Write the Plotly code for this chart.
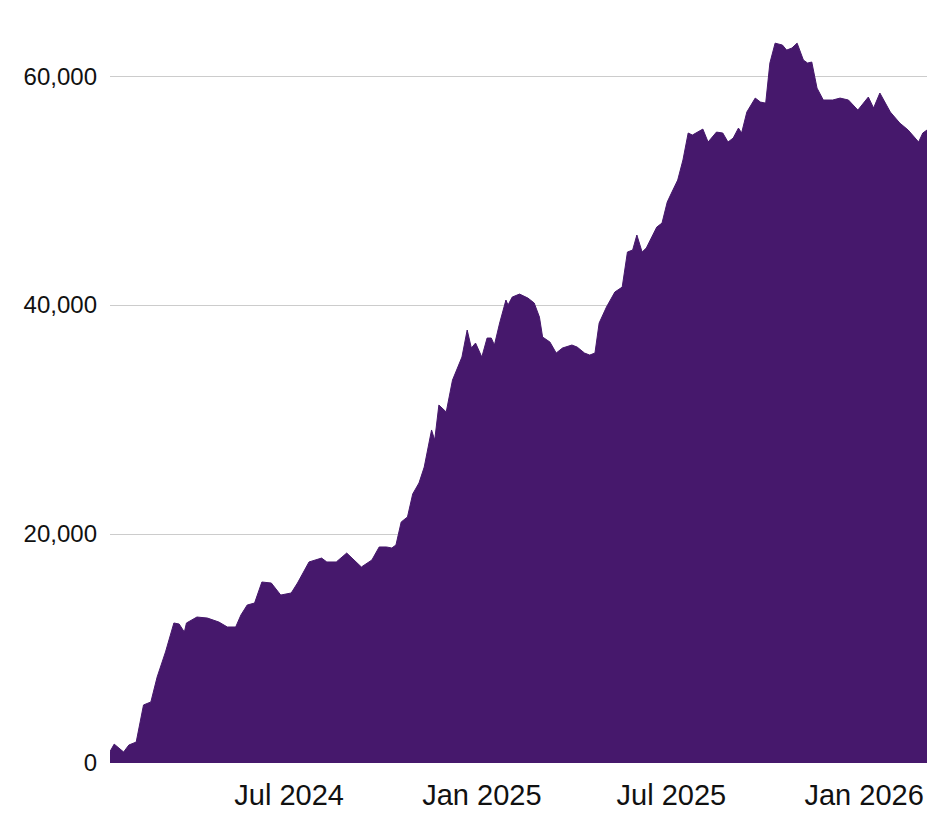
import plotly.graph_objects as go

dates = [
    "2024-01-12", "2024-01-16", "2024-01-25", "2024-01-30", "2024-02-06", "2024-02-13",
    "2024-02-20", "2024-02-26", "2024-03-05", "2024-03-13", "2024-03-18", "2024-03-23",
    "2024-03-25", "2024-04-04", "2024-04-14", "2024-04-25", "2024-05-03", "2024-05-11",
    "2024-05-16", "2024-05-22", "2024-05-29", "2024-06-05", "2024-06-14", "2024-06-23",
    "2024-07-03", "2024-07-09", "2024-07-20", "2024-08-01", "2024-08-06", "2024-08-15",
    "2024-08-25", "2024-09-01", "2024-09-08", "2024-09-18", "2024-09-25", "2024-10-02",
    "2024-10-07", "2024-10-11", "2024-10-16", "2024-10-22", "2024-10-27", "2024-11-02",
    "2024-11-07", "2024-11-14", "2024-11-17", "2024-11-21", "2024-11-28", "2024-12-04",
    "2024-12-13", "2024-12-18", "2024-12-22", "2024-12-26", "2025-01-01", "2025-01-06",
    "2025-01-10", "2025-01-13", "2025-01-18", "2025-01-24", "2025-01-26", "2025-01-30",
    "2025-02-06", "2025-02-14", "2025-02-20", "2025-02-25", "2025-02-28", "2025-03-07",
    "2025-03-13", "2025-03-19", "2025-03-28", "2025-04-02", "2025-04-09", "2025-04-14",
    "2025-04-19", "2025-04-23", "2025-04-30", "2025-05-08", "2025-05-15", "2025-05-20",
    "2025-05-25", "2025-05-29", "2025-06-03", "2025-06-07", "2025-06-17", "2025-06-22",
    "2025-06-27", "2025-07-01", "2025-07-07", "2025-07-12", "2025-07-17", "2025-07-21",
    "2025-07-31", "2025-08-05", "2025-08-13", "2025-08-19", "2025-08-24", "2025-08-29",
    "2025-09-03", "2025-09-06", "2025-09-11", "2025-09-19", "2025-09-24", "2025-09-29",
    "2025-10-03", "2025-10-08", "2025-10-15", "2025-10-19", "2025-10-24", "2025-10-29",
    "2025-11-04", "2025-11-08", "2025-11-12", "2025-11-17", "2025-11-23", "2025-12-02",
    "2025-12-09", "2025-12-17", "2025-12-26", "2026-01-05", "2026-01-10", "2026-01-16",
    "2026-01-26", "2026-02-04", "2026-02-12", "2026-02-22", "2026-02-26", "2026-03-02",
]

values = [
    1000, 1650, 960, 1570, 1830, 5070,
    5330, 7510, 9700, 12230, 12140, 11440,
    12230, 12750, 12660, 12310, 11880, 11880,
    12930, 13800, 13970, 15810, 15720, 14670,
    14850, 15720, 17560, 17900, 17560, 17560,
    18340, 17730, 17120, 17730, 18870, 18870,
    18780, 19040, 21050, 21490, 23500, 24460,
    25850, 29090, 28210, 31270, 30660, 33450,
    35460, 37820, 36250, 36680, 35460, 37120,
    37120, 36510, 38430, 40440, 40000, 40700,
    40960, 40610, 40180, 38950, 37210, 36770,
    35810, 36250, 36510, 36330, 35810, 35630,
    35810, 38430, 39830, 41140, 41570, 44630,
    44810, 46120, 44630, 44980, 46810, 47160,
    49000, 49780, 50920, 52670, 55030, 54850,
    55370, 54240, 55110, 55030, 54240, 54590,
    55460, 55030, 56860, 58080, 57730, 57640,
    61140, 62880, 62710, 62270, 62450, 62880,
    61400, 61140, 61230, 58950, 57910, 57910,
    58080, 57910, 57030, 58170, 57210, 58520,
    56860, 55900, 55290, 54240, 55030, 55290,
]

x_tick_vals = ["2024-07-01", "2025-01-01", "2025-07-01", "2026-01-01"]
x_tick_text = ["Jul 2024", "Jan 2025", "Jul 2025", "Jan 2026"]
y_tick_vals = [0, 20000, 40000, 60000]
y_tick_text = ["0", "20,000", "40,000", "60,000"]

fig = go.Figure(
    go.Scatter(
        x=dates,
        y=values,
        mode="lines",
        fill="tozeroy",
        line=dict(color="#46186c", width=1),
        fillcolor="#46186c",
        hoverinfo="skip",
    )
)

fig.update_layout(
    width=927,
    height=823,
    margin=dict(l=110, r=0, t=20, b=60),
    paper_bgcolor="white",
    plot_bgcolor="white",
    showlegend=False,
    xaxis=dict(
        range=[dates[0], dates[-1]],
        tickmode="array",
        tickvals=x_tick_vals,
        ticktext=x_tick_text,
        showgrid=False,
        zeroline=False,
        showline=False,
        ticks="",
        ticklabelstandoff=12,
        tickfont=dict(family="Liberation Sans, Arial, sans-serif", size=29, color="#111111"),
    ),
    yaxis=dict(
        range=[0, 64900],
        tickmode="array",
        tickvals=y_tick_vals,
        ticktext=y_tick_text,
        showgrid=True,
        gridcolor="#cccccc",
        gridwidth=1,
        zeroline=False,
        showline=False,
        ticks="",
        ticklabelstandoff=12,
        tickfont=dict(family="Liberation Sans, Arial, sans-serif", size=24, color="#111111"),
    ),
)

fig.write_html(
    "out.html",
    config={"displayModeBar": False, "staticPlot": True},
    post_script="document.body.style.margin='0';document.body.style.overflow='hidden';",
)
